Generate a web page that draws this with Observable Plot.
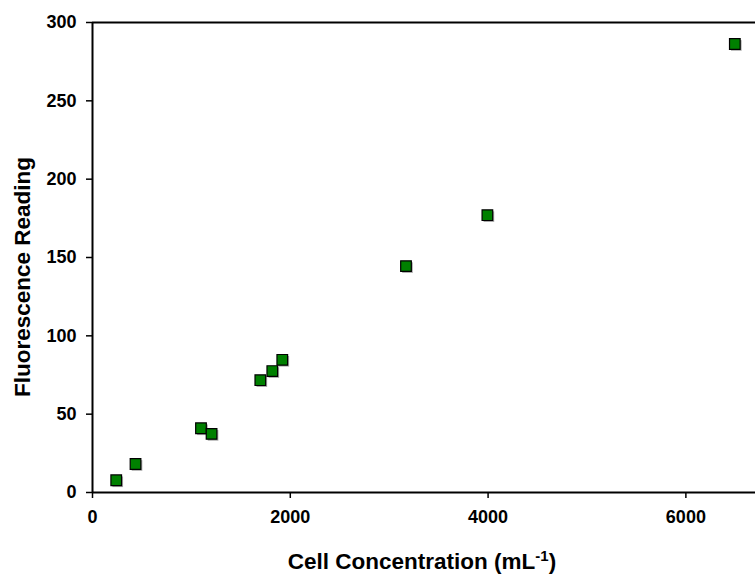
<!DOCTYPE html>
<html>
<head>
<meta charset="utf-8">
<script src="https://cdn.jsdelivr.net/npm/d3@7"></script>
<script src="https://cdn.jsdelivr.net/npm/@observablehq/plot@0.6"></script>
<style>
  html, body { margin: 0; padding: 0; background: #fff; }
  #chart svg { display: block; }
</style>
</head>
<body>
<div id="chart"></div>
<script>
const cellConcentration = [240, 435, 1097, 1204, 1697, 1818, 1919, 3170, 3993, 6495];
const fluorescence      = [7.8, 18.2, 41.0, 37.4, 71.7, 77.5, 84.7, 144.5, 177.0, 286.3];
const yTicks = [0, 50, 100, 150, 200, 250, 300];
const xTicks = [0, 2000, 4000, 6000];
const xTitle = "Cell Concentration (mL";
const xTitleSup = "-1";
const yTitle = "Fluorescence Reading";

const data = cellConcentration.map((c, i) => ({x: c, y: fluorescence[i]}));

const font = "'Liberation Sans', Arial, sans-serif";

const chart = Plot.plot({
  width: 755,
  height: 574,
  marginLeft: 92,
  marginRight: 0,
  marginTop: 22,
  marginBottom: 82,
  style: {fontFamily: font, fontSize: "18px", fontWeight: "bold", color: "#000", background: "#fff"},
  x: {domain: [0, 6704], ticks: xTicks, tickFormat: d => String(d), label: null},
  y: {domain: [0, 300], ticks: yTicks, tickFormat: d => String(d), label: null},
  marks: [
    Plot.ruleY([300], {stroke: "#000", strokeWidth: 2}),
    Plot.ruleX([0], {stroke: "#000", strokeWidth: 2}),
    Plot.ruleY([0], {stroke: "#000", strokeWidth: 2}),
    Plot.axisX({ticks: xTicks, tickSize: 6, tickPadding: 12, tickFormat: d => String(d), stroke: "#000", strokeWidth: 1.5, label: null, fontSize: 18}),
    Plot.axisY({ticks: yTicks, tickSize: 6, tickPadding: 10, tickFormat: d => String(d), stroke: "#000", strokeWidth: 1.5, label: null, fontSize: 18}),
    Plot.dot(data, {x: "x", y: "y", symbol: "square", r: 6, fill: "#888", stroke: "none", dx: 1.5, dy: 1.5, fillOpacity: 0.7}),
    Plot.dot(data, {x: "x", y: "y", symbol: "square", r: 6, fill: "#008000", stroke: "#000", strokeWidth: 1.2})
  ]
});

const svg = d3.select(chart);
const xt = svg.append("text")
  .attr("x", 422).attr("y", 569)
  .attr("text-anchor", "middle")
  .attr("font-family", font).attr("font-weight", "bold").attr("font-size", 22.5)
  .attr("fill", "#000");
xt.append("tspan").text(xTitle);
xt.append("tspan").attr("dy", -8).attr("font-size", 15).text(xTitleSup);
xt.append("tspan").attr("dy", 8).text(")");

svg.append("text")
  .attr("transform", "translate(30,277) rotate(-90)")
  .attr("text-anchor", "middle")
  .attr("font-family", font).attr("font-weight", "bold").attr("font-size", 22.5)
  .attr("fill", "#000")
  .text(yTitle);

document.getElementById("chart").appendChild(chart);
</script>
</body>
</html>
